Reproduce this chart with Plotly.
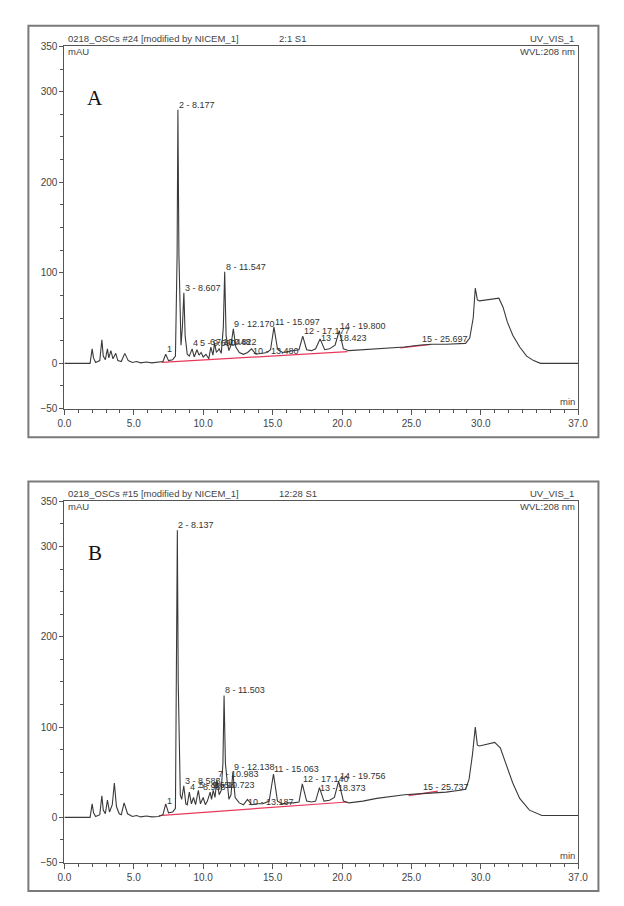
import plotly.graph_objects as go

W, H = 624, 906

# ---------------- data ----------------
rt_A = [0, 1.85, 2.0, 2.1, 2.25, 2.55, 2.7, 2.8, 2.95, 3.1, 3.2, 3.35, 3.5, 3.7, 3.85,
        4.1, 4.35, 4.6, 4.9, 5.2, 5.5, 5.9, 6.3, 6.8, 7.1, 7.3, 7.5, 7.8, 8.0, 8.12,
        8.177, 8.25, 8.4, 8.5, 8.607, 8.7, 8.85, 9.0, 9.2, 9.35, 9.55, 9.7, 9.85, 10.0,
        10.2, 10.4, 10.55, 10.7, 10.82, 10.95, 11.15, 11.3, 11.45, 11.547, 11.65, 11.85,
        12.0, 12.17, 12.35, 12.6, 12.9, 13.2, 13.48, 13.8, 14.2, 14.6, 14.85, 15.097,
        15.35, 15.7, 16.1, 16.5, 16.9, 17.17, 17.45, 17.8, 18.1, 18.42, 18.75, 19.1,
        19.5, 19.8, 20.1, 20.5, 21.5, 22.5, 23.5, 24.5, 25.5, 26.5, 27.5, 28.5, 28.9,
        29.2, 29.45, 29.6, 29.75, 29.9, 30.4, 31.0, 31.3, 31.6, 31.9, 32.3, 32.8, 33.3,
        33.8, 34.3, 37.0]
mau_A = [0, 0, 16, 6, 1, 3, 26, 8, 4, 16, 6, 14, 5, 11, 3,
         2, 11, 3, 1, 2, 0.5, 1.5, 0.5, 1, 2, 10, 3, 4, 8, 120,
         280, 120, 20, 40, 78, 30, 10, 8, 16, 7, 15, 9, 12, 7,
         10, 5, 18, 9, 22, 12, 16, 11, 40, 101, 30, 14,
         20, 38, 18, 12, 10, 12, 16, 10, 11, 12, 15, 40,
         16, 12, 13, 14, 15, 30, 15, 14, 16, 27, 15, 16,
         20, 36, 16, 14, 15, 16, 17, 18, 20, 21, 21, 22, 22,
         28, 50, 83, 70, 69, 70, 72, 72, 62, 46, 31, 18, 8,
         3, 0, 0]

rt_B = [0, 1.85, 2.0, 2.1, 2.25, 2.55, 2.7, 2.8, 2.95, 3.1, 3.25, 3.45, 3.6, 3.75, 3.95,
        4.1, 4.3, 4.55, 4.9, 5.2, 5.5, 5.9, 6.3, 6.8, 7.1, 7.3, 7.5, 7.8, 8.0, 8.08,
        8.137, 8.2, 8.35, 8.45, 8.6, 8.75, 8.85, 9.0, 9.15, 9.3, 9.45, 9.65, 9.8, 10.0,
        10.15, 10.3, 10.5, 10.6, 10.72, 10.85, 10.98, 11.15, 11.3, 11.42, 11.503, 11.6,
        11.85, 12.0, 12.138, 12.3, 12.6, 12.9, 13.187, 13.5, 13.9, 14.3, 14.75, 15.063,
        15.35, 15.7, 16.1, 16.5, 16.9, 17.14, 17.45, 17.8, 18.1, 18.373, 18.7, 19.1,
        19.45, 19.756, 20.1, 20.5, 21.5, 22.5, 23.5, 24.5, 25.5, 26.5, 27.5, 28.5, 28.9,
        29.15, 29.4, 29.6, 29.75, 29.9, 30.4, 31.0, 31.4, 31.8, 32.3, 32.8, 33.5,
        34.4, 37.0]
mau_B = [0, 0, 15, 5, 1, 3, 24, 8, 4, 19, 6, 14, 38, 12, 4,
         3, 16, 4, 1, 2, 0.5, 1.5, 0.5, 1, 3, 15, 5, 6, 10, 150,
         318, 150, 25, 20, 35, 15, 14, 28, 15, 22, 14, 30, 15, 22,
         14, 18, 28, 20, 30, 22, 42, 25, 30, 60, 135, 60,
         20, 25, 50, 22, 16, 14, 20, 14, 15, 15, 18, 48,
         18, 15, 16, 16, 17, 37, 18, 17, 18, 33, 18, 19,
         22, 40, 18, 16, 18, 21, 23, 25, 26, 27, 28, 30, 31,
         42, 70, 100, 80, 79, 81, 83, 77, 60, 38, 21, 8,
         2, 2]

# integration baselines (red)
base_rt_A = [[7.0, 20.4], [24.2, 26.4]]
base_mau_A = [[1, 13], [17, 21]]
base_rt_B = [[6.8, 20.4], [24.8, 26.9]]
base_mau_B = [[2, 17], [24, 29]]

# peak labels: text, retention time, apex (mAU)
labels_A = [("1", 7.3, 10), ("2 - 8.177", 8.177, 280), ("3 - 8.607", 8.607, 78),
            ("4", 9.2, 17), ("5 - 9.690", 9.7, 17), ("6 - 10.448", 10.45, 18),
            ("7 - 10.822", 10.82, 18), ("8 - 11.547", 11.547, 101), ("9 - 12.170", 12.17, 38),
            ("10 - 13.480", 13.48, 8), ("11 - 15.097", 15.097, 40), ("12 - 17.177", 17.17, 30),
            ("13 - 18.423", 18.42, 22), ("14 - 19.800", 19.8, 36), ("15 - 25.697", 25.697, 21)]
labels_B = [("1", 7.3, 13), ("2 - 8.137", 8.137, 318), ("3 - 8.583", 8.6, 35),
            ("4 - 8.983", 8.98, 28), ("5 - 9.658", 9.66, 30), ("6 - 10.723", 10.72, 30),
            ("7 - 10.983", 10.98, 42), ("8 - 11.503", 11.503, 135), ("9 - 12.138", 12.138, 50),
            ("10 - 13.187", 13.187, 12), ("11 - 15.063", 15.063, 48), ("12 - 17.140", 17.14, 37),
            ("13 - 18.373", 18.373, 27), ("14 - 19.756", 19.756, 40), ("15 - 25.737", 25.737, 28)]

x_tickvals = [0, 5, 10, 15, 20, 25, 30, 37]
x_ticktext = ["0.0", "5.0", "10.0", "15.0", "20.0", "25.0", "30.0", "37.0"]
y_tickvals = [-50, 0, 100, 200, 300, 350]

panels = [
    dict(rt=rt_A, mau=mau_A, brt=base_rt_A, bmau=base_mau_A, labels=labels_A,
         title="0218_OSCs #24 [modified by NICEM_1]", inj="2:1 S1", letter="A",
         top=41, bottom=408, ftop=20, fbottom=437),
    dict(rt=rt_B, mau=mau_B, brt=base_rt_B, bmau=base_mau_B, labels=labels_B,
         title="0218_OSCs #15 [modified by NICEM_1]", inj="12:28 S1", letter="B",
         top=502, bottom=868, ftop=482, fbottom=897),
]

XL, XR = 59, 587


def px(x):
    return x / W


def py(y):
    return 1 - y / H


fig = go.Figure()
annotations = []
shapes = []
font = "Liberation Sans, Arial, sans-serif"

for i, p in enumerate(panels):
    sfx = "" if i == 0 else "2"
    xa, ya = "x" + sfx, "y" + sfx
    for brt, bmau in zip(p["brt"], p["bmau"]):
        fig.add_trace(go.Scatter(x=brt, y=bmau, mode="lines", xaxis=xa, yaxis=ya,
                                 line=dict(color="#e8385a", width=1.2), showlegend=False,
                                 hoverinfo="skip"))
    fig.add_trace(go.Scatter(x=p["rt"], y=p["mau"], mode="lines", xaxis=xa, yaxis=ya,
                             line=dict(color="#3a3a3a", width=1.1), showlegend=False))
    axis_common = dict(showline=True, linecolor="#555555", linewidth=1, mirror=True,
                       ticks="outside", tickcolor="#555555", showgrid=False, zeroline=False,
                       tickfont=dict(family=font, size=10, color="#444444"))
    fig.update_layout(**{
        "xaxis" + sfx: dict(domain=[px(XL), px(XR)], range=[0, 37], anchor=ya,
                            tickvals=x_tickvals, ticktext=x_ticktext, ticklen=5,
                            minor=dict(tickmode="linear", tick0=0, dtick=1, ticklen=3,
                                       ticks="outside", tickcolor="#555555"),
                            **axis_common),
        "yaxis" + sfx: dict(domain=[py(p["bottom"]), py(p["top"])], range=[-50, 350],
                            anchor=xa, tickvals=y_tickvals, ticklen=4,
                            minor=dict(tickmode="linear", tick0=0, dtick=25, ticklen=3,
                                       ticks="outside", tickcolor="#555555"),
                            **axis_common),
    })
    # outer frame
    shapes.append(dict(type="rect", xref="paper", yref="paper", x0=px(22), x1=px(608),
                       y0=py(p["fbottom"]), y1=py(p["ftop"]),
                       line=dict(color="#7a7a7a", width=2)))
    # header texts
    ty = p["top"] - 8
    hfont = dict(family=font, size=9.5, color="#444444")
    annotations += [
        dict(text=p["title"], x=px(61), y=py(ty), xref="paper", yref="paper",
             xanchor="left", yanchor="middle", showarrow=False, font=hfont),
        dict(text=p["inj"], x=px(278), y=py(ty), xref="paper", yref="paper",
             xanchor="left", yanchor="middle", showarrow=False, font=hfont),
        dict(text="UV_VIS_1", x=px(585), y=py(ty), xref="paper", yref="paper",
             xanchor="right", yanchor="middle", showarrow=False, font=hfont),
        dict(text="mAU", x=px(61), y=py(p["top"] + 5), xref="paper", yref="paper",
             xanchor="left", yanchor="middle", showarrow=False, font=hfont),
        dict(text="WVL:208 nm", x=px(586), y=py(p["top"] + 5), xref="paper", yref="paper",
             xanchor="right", yanchor="middle", showarrow=False, font=hfont),
        dict(text="min", x=px(586), y=py(p["bottom"] - 7), xref="paper", yref="paper",
             xanchor="right", yanchor="middle", showarrow=False, font=hfont),
        dict(text=p["letter"], x=px(90), y=py(p["top"] + 52), xref="paper", yref="paper",
             xanchor="center", yanchor="middle", showarrow=False,
             font=dict(family="Liberation Serif, Times New Roman, serif", size=21,
                       color="#111111")),
    ]
    for text, rt, apex in p["labels"]:
        annotations.append(dict(text=text, x=rt, y=apex, xref=xa, yref=ya,
                                xanchor="left", yanchor="bottom", showarrow=False,
                                xshift=-1, yshift=-2,
                                font=dict(family=font, size=9, color="#333333")))

fig.update_layout(width=W, height=H, margin=dict(l=0, r=0, t=0, b=0),
                  plot_bgcolor="white", paper_bgcolor="white",
                  annotations=annotations, shapes=shapes, showlegend=False)

fig.write_html("out.html")
